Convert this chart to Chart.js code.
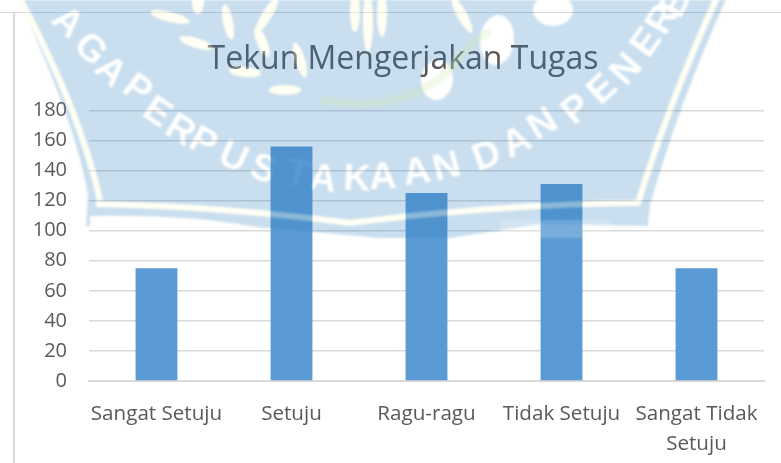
<!doctype html>
<html lang="en">
<head>
    <title>Tekun Mengerjakan Tugas</title>
    <meta charset="utf-8" />
    <script src="https://cdnjs.cloudflare.com/ajax/libs/Chart.js/4.4.1/chart.umd.min.js"></script>
    <style>
        html, body { margin: 0; padding: 0; background: #fff; }
        canvas { display: block; }
    </style>
</head>
<body>
    <canvas id="myChartBar" width="781" height="463"></canvas>
    <script>
        const categories = ['Sangat Setuju', 'Setuju', 'Ragu-ragu', 'Tidak Setuju', ['Sangat Tidak', 'Setuju']];
        const seriesValues = [75, 156, 125, 131, 75];
        const seriesName = 'Tekun Mengerjakan Tugas';
        const tickStep = 20;
        const tickMax = 180;

        // library stamp over the chart: letters placed by hand along its arc
        const stampLetters = [
            ['A', 67, 23, 0.75], ['G', 90, 50, 0.75], ['A', 110, 72, 0.75],
            ['P', 137, 90, 0.65], ['E', 157, 113, 0.6], ['R', 180, 131, 0.55], ['P', 203, 143, 0.5], ['U', 233, 158, 0.42], ['S', 263, 170, 0.35],
            ['T', 297, 175, 0.25], ['A', 323, 180, 0.15], ['K', 357, 180, 0.05], ['A', 383, 178, -0.05], ['A', 417, 173, -0.15], ['N', 447, 168, -0.25],
            ['D', 487, 157, -0.35], ['A', 517, 143, -0.45], ['N', 543, 125, -0.55],
            ['P', 577, 110, -0.7], ['E', 603, 90, -0.75], ['N', 627, 70, -0.85], ['E', 647, 43, -0.95], ['R', 663, 20, -1.05], ['B', 677, 3, -1.1]
        ];
        const stampRice = [
            [170, 17, 20, 5, 0.25], [228, 22, 5, 18, -0.2], [267, 15, 5, 20, 0.55], [196, 43, 17, 5, 0.3], [262, 42, 5, 16, -0.4],
            [285, 90, 16, 5, 0], [245, 72, 16, 5, 0.1], [300, 60, 5, 18, -0.3], [355, 12, 5, 20, 0], [368, 22, 5, 30, 0], [382, 15, 5, 22, 0], [462, 15, 5, 20, -0.5], [198, 2, 6, 12, 0]
        ];
        const stampBlobs = [[497, 40, 17, 25, 0.1], [437, 80, 16, 20, 0.1], [553, 10, 20, 16, 0]];

        function bandPaths(g) {
            g.beginPath();
            g.moveTo(18, -5);
            g.quadraticCurveTo(80, 110, 100, 200);
            g.stroke();
            g.beginPath();
            g.moveTo(638, 203);
            g.quadraticCurveTo(670, 100, 718, -5);
            g.stroke();
            g.beginPath();
            g.moveTo(96, 204);
            g.quadraticCurveTo(230, 207, 350, 223);
            g.quadraticCurveTo(500, 204, 640, 203);
            g.stroke();
        }

        function drawStamp(g) {
            // blue shield
            g.beginPath();
            g.moveTo(16, -5);
            g.quadraticCurveTo(75, 120, 88, 195);
            g.lineTo(86, 226);
            g.lineTo(270, 228);
            g.lineTo(380, 238);
            g.lineTo(450, 238);
            g.lineTo(540, 224);
            g.lineTo(648, 226);
            g.lineTo(650, 205);
            g.quadraticCurveTo(680, 100, 728, -5);
            g.closePath();
            g.fillStyle = 'rgba(40,124,188,0.25)';
            g.fill();

            // everything pale is cut out of the blue
            g.globalCompositeOperation = 'destination-out';
            g.fillStyle = '#000';
            g.strokeStyle = '#000';
            g.lineWidth = 6;
            bandPaths(g);
            g.beginPath();
            g.moveTo(90, 216);
            g.quadraticCurveTo(200, 214, 270, 230);
            g.lineTo(90, 232);
            g.closePath();
            g.fill();
            stampRice.concat(stampBlobs).forEach(r => {
                g.beginPath();
                g.ellipse(r[0], r[1], r[2], r[3], r[4], 0, Math.PI * 2);
                g.fill();
            });
            g.font = 'bold 38px "Liberation Sans"';
            g.textAlign = 'center';
            g.textBaseline = 'middle';
            stampLetters.forEach(l => {
                g.save();
                g.translate(l[1], l[2]);
                g.rotate(l[3]);
                g.fillText(l[0], 0, 0);
                g.restore();
            });
            g.globalCompositeOperation = 'source-over';

            // cream tint on the band and grains, pale patch low on the right
            g.strokeStyle = 'rgba(255,255,220,0.3)';
            g.lineWidth = 6;
            bandPaths(g);
            g.fillStyle = 'rgba(255,255,220,0.35)';
            stampRice.forEach(r => {
                g.beginPath();
                g.ellipse(r[0], r[1], r[2], r[3], r[4], 0, Math.PI * 2);
                g.fill();
            });
            g.fillStyle = 'rgba(255,255,255,0.18)';
            g.fillRect(500, 220, 110, 18);
            // pale green behind the leaves
            g.strokeStyle = 'rgba(210,235,180,0.3)';
            g.lineWidth = 8;
            g.beginPath();
            g.moveTo(320, 100);
            g.quadraticCurveTo(400, 115, 450, 70);
            g.quadraticCurveTo(470, 40, 490, 32);
            g.stroke();
        }

        const framePlugin = {
            id: 'frame',
            afterLayout(chart) {
                // title sits right of the canvas centre
                chart.titleBlock.left = 42;
            },
            beforeDraw(chart) {
                const c = chart.ctx;
                c.save();
                c.fillStyle = '#fff';
                c.fillRect(0, 0, 781, 463);
                c.fillStyle = '#d9d9d9';
                c.fillRect(0, 12, 781, 1);
                c.fillRect(13, 12, 2, 451);
                c.restore();
            },
            afterDraw(chart) {
                const off = document.createElement('canvas');
                off.width = 781;
                off.height = 463;
                drawStamp(off.getContext('2d'));
                const c = chart.ctx;
                c.save();
                c.filter = 'blur(1px)';
                c.drawImage(off, 0, 0);
                c.restore();
            }
        };

        const ctx = document.getElementById('myChartBar').getContext('2d');
        new Chart(ctx, {
            type: 'bar',
            data: {
                labels: categories,
                datasets: [{
                    label: seriesName,
                    data: seriesValues,
                    backgroundColor: '#5b9bd5',
                    barPercentage: 0.31,
                    categoryPercentage: 1
                }]
            },
            plugins: [framePlugin],
            options: {
                responsive: false,
                animation: false,
                layout: { padding: { left: 0, right: 17, top: 0, bottom: 0 } },
                plugins: {
                    legend: { display: false },
                    tooltip: { enabled: false },
                    title: {
                        display: true,
                        text: seriesName,
                        color: '#595959',
                        font: { family: '"Open Sans"', size: 32, weight: 'normal' },
                        padding: { top: 41, bottom: 31 }
                    }
                },
                scales: {
                    x: {
                        grid: { display: false },
                        border: { color: '#d9d9d9', width: 2 },
                        ticks: {
                            color: '#595959',
                            font: { family: '"Open Sans"', size: 20.6, lineHeight: 1.45 },
                            padding: 10,
                            maxRotation: 0,
                            autoSkip: false
                        },
                        afterFit(scale) { scale.height = 82; }
                    },
                    y: {
                        min: 0,
                        max: tickMax,
                        grid: { color: '#d9d9d9', lineWidth: 1.5, drawTicks: false },
                        border: { display: false },
                        ticks: {
                            stepSize: tickStep,
                            color: '#595959',
                            font: { family: '"Open Sans"', size: 20 },
                            padding: 22
                        },
                        afterFit(scale) { scale.width = 89; }
                    }
                }
            }
        });
    </script>
</body>
</html>
